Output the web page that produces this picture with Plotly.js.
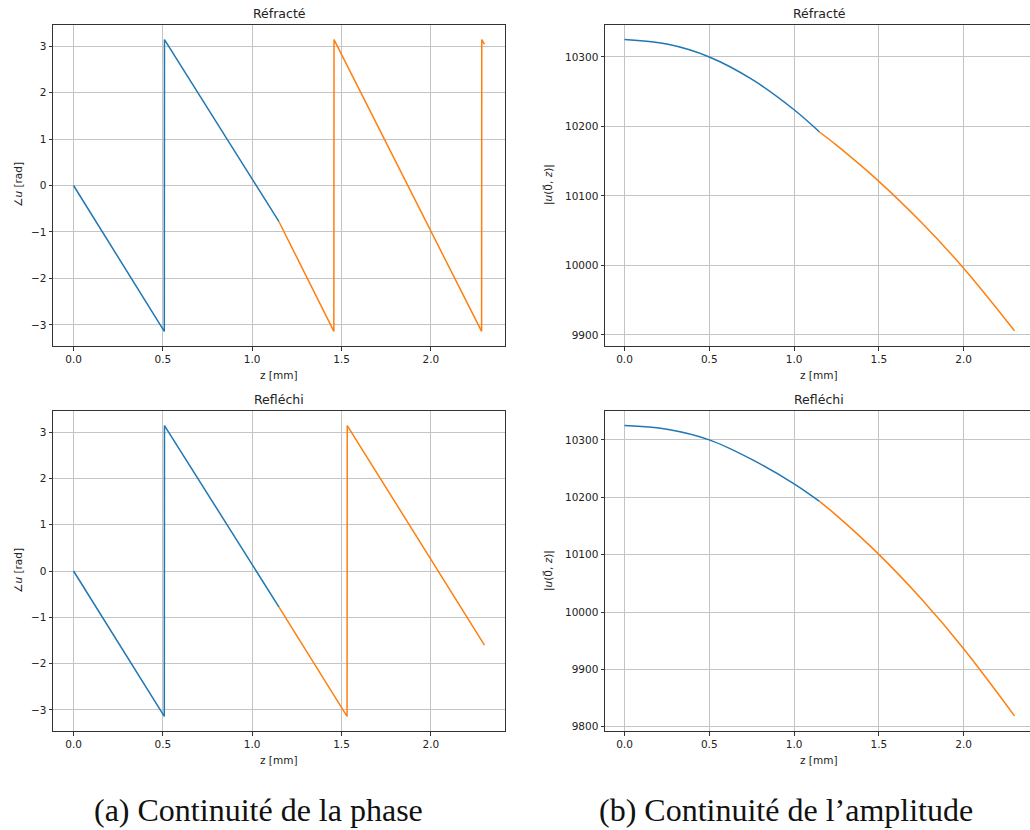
<!DOCTYPE html>
<html>
<head>
<meta charset="utf-8">
<script src="https://cdn.plot.ly/plotly-3.0.1.min.js"></script>
<style>
html, body { margin:0; padding:0; overflow:hidden; background:#fff; }
#chart { width:1034px; height:830px; }
</style>
</head>
<body>
<div id="chart"></div>
<script>
// ---- data ----
// Phase, refracted
const zPhaseRefrBlue   = [0, 0.508, 0.509, 1.15];
const phaseRefrBlue    = [0, -3.1416, 3.1416, -0.78];
const zPhaseRefrOrange = [1.15, 1.457, 1.458, 2.284, 2.285, 2.3];
const phaseRefrOrange  = [-0.78, -3.1416, 3.1416, -3.1416, 3.1416, 3.04];
// Phase, reflected
const zPhaseReflBlue   = [0, 0.508, 0.509, 1.15];
const phaseReflBlue    = [0, -3.1416, 3.1416, -0.78];
const zPhaseReflOrange = [1.15, 1.531, 1.532, 2.3];
const phaseReflOrange  = [-0.78, -3.1416, 3.1416, -1.6];
// Amplitude, refracted
const zAmpRefrBlue   = [0, 0.25, 0.5, 0.75, 1.0, 1.15];
const ampRefrBlue    = [10325, 10318.5, 10300, 10268, 10224, 10192];
const zAmpRefrOrange = [1.15, 1.25, 1.5, 1.75, 2.0, 2.3];
const ampRefrOrange  = [10192, 10173, 10121, 10062, 9996, 9906];
// Amplitude, reflected
const zAmpReflBlue   = [0, 0.25, 0.5, 0.75, 1.0, 1.15];
const ampReflBlue    = [10325, 10318.5, 10300, 10266, 10223.5, 10193];
const zAmpReflOrange = [1.15, 1.25, 1.5, 1.75, 2.0, 2.3];
const ampReflOrange  = [10193, 10168.5, 10100.5, 10023, 9936, 9819];

const titles = ["Réfracté", "Refléchi"];
const captions = ["(a) Continuité de la phase", "(b) Continuité de l\u2019amplitude"];

const BLUE = "#1f77b4", ORANGE = "#ff7f0e";
const W = 1034, H = 830;

function tr(x, y, color, xa, ya, spline) {
  return {x:x, y:y, type:"scatter", mode:"lines", xaxis:xa, yaxis:ya,
          line:{color:color, width:1.5, shape: spline ? "spline" : "linear", smoothing:1},
          hoverinfo:"skip", showlegend:false};
}
const data = [
  tr(zPhaseRefrBlue, phaseRefrBlue, BLUE, "x", "y"),
  tr(zPhaseRefrOrange, phaseRefrOrange, ORANGE, "x", "y"),
  tr(zAmpRefrBlue, ampRefrBlue, BLUE, "x2", "y2", true),
  tr(zAmpRefrOrange, ampRefrOrange, ORANGE, "x2", "y2", true),
  tr(zPhaseReflBlue, phaseReflBlue, BLUE, "x3", "y3"),
  tr(zPhaseReflOrange, phaseReflOrange, ORANGE, "x3", "y3"),
  tr(zAmpReflBlue, ampReflBlue, BLUE, "x4", "y4", true),
  tr(zAmpReflOrange, ampReflOrange, ORANGE, "x4", "y4", true),
];

const tickFont = {family:"DejaVu Sans", size:10.5, color:"#222"};
function xax(domain, anchor) {
  return {domain:domain, anchor:anchor, range:[-0.115, 2.415], tick0:0, dtick:0.5,
    tickformat:".1f", showgrid:true, gridcolor:"#c4c4c4", gridwidth:1, zeroline:false,
    showline:true, linecolor:"#333", linewidth:1, mirror:true,
    ticks:"outside", ticklen:3.5, tickcolor:"#333", tickfont:tickFont};
}
function yax(domain, anchor, range, dtick) {
  return {domain:domain, anchor:anchor, range:range, tick0:0, dtick:dtick,
    tickformat:"d",
    showgrid:true, gridcolor:"#c4c4c4", gridwidth:1, zeroline:false,
    showline:true, linecolor:"#333", linewidth:1, mirror:true,
    ticks:"outside", ticklen:3.5, tickcolor:"#333", tickfont:tickFont};
}
const px = v => v / W;
const py = v => 1 - v / H;
const colL = [px(53), px(505)], colR = [px(605), 1];
const rowT = [py(346), py(25)], rowB = [py(731), py(411)];

const layout = {
  width:W, height:H, margin:{l:0, r:0, t:0, b:0},
  paper_bgcolor:"#fff", plot_bgcolor:"#fff",
  xaxis: xax(colL, "y"),  yaxis: yax(rowT, "x",  [-3.456, 3.456], 1),
  xaxis2:xax(colR, "y2"), yaxis2:yax(rowT, "x2", [9884, 10346], 100),
  xaxis3:xax(colL, "y3"), yaxis3:yax(rowB, "x3", [-3.456, 3.456], 1),
  xaxis4:xax(colR, "y4"), yaxis4:yax(rowB, "x4", [9792.6, 10350.4], 100),
  annotations:[]
};

const ann = (text, x, y, size, opts) => Object.assign({
  text:text, xref:"paper", yref:"paper", x:px(x), y:py(y), showarrow:false,
  xanchor:"center", yanchor:"middle",
  font:{family:"DejaVu Sans", size:size, color:"#222"}}, opts || {});

// subplot titles
layout.annotations.push(ann(titles[0], 279, 13, 12.5));
layout.annotations.push(ann(titles[0], 819, 13, 12.5));
layout.annotations.push(ann(titles[1], 279, 399, 12.5));
layout.annotations.push(ann(titles[1], 819, 399, 12.5));
// x labels
layout.annotations.push(ann("z [mm]", 279, 375, 10.5));
layout.annotations.push(ann("z [mm]", 819, 375, 10.5));
layout.annotations.push(ann("z [mm]", 279, 760, 10.5));
layout.annotations.push(ann("z [mm]", 819, 760, 10.5));
// y labels
const yPhase = "\u2220<i>u</i> [rad]";
const yAmp = "|<i>u</i>(0\u20D7, <i>z</i>)|";
layout.annotations.push(ann(yPhase, 18, 185, 10.5, {textangle:-90}));
layout.annotations.push(ann(yPhase, 18, 571, 10.5, {textangle:-90}));
layout.annotations.push(ann(yAmp, 548, 185, 10.5, {textangle:-90}));
layout.annotations.push(ann(yAmp, 548, 571, 10.5, {textangle:-90}));
// captions
const capFont = {family:"Liberation Serif", size:32, color:"#111"};
layout.annotations.push(ann(captions[0], 258, 810, 32, {font:capFont}));
layout.annotations.push(ann(captions[1], 786, 810, 32, {font:capFont}));

Plotly.newPlot("chart", data, layout, {displayModeBar:false, staticPlot:true});
</script>
</body>
</html>
